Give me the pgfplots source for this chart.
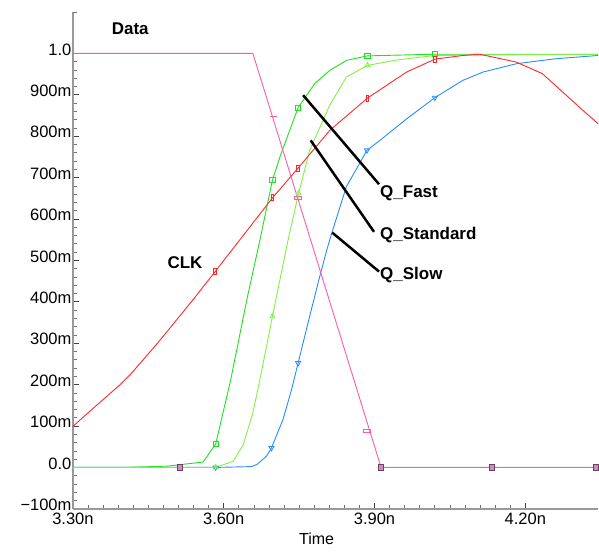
\documentclass[border=0pt]{standalone}
\usepackage{fontspec}
\setmainfont{Liberation Sans}
\usepackage{pgfplots}
\pgfplotsset{compat=1.18}

\definecolor{cData}{RGB}{255,90,170}
\definecolor{cClk}{RGB}{255,40,40}
\definecolor{cFast}{RGB}{30,225,30}
\definecolor{cStd}{RGB}{130,240,70}
\definecolor{cSlow}{RGB}{40,140,255}
\definecolor{cMauve}{RGB}{205,140,195}
\definecolor{cMauveD}{RGB}{110,60,100}

\begin{document}
\begin{tikzpicture}
\begin{axis}[
  name=ax,
  scale only axis,
  width=526pt, height=497.5pt,
  xmin=3.30, xmax=4.345,
  ymin=-0.1, ymax=1.1,
  axis x line=bottom, axis y line=left,
  axis line style={-, draw=black!40, line width=1.6pt},
  tick align=inside,
  major tick length=6pt, minor tick length=4pt,
  every major tick/.append style={black!75, line width=0.9pt},
  every minor tick/.append style={black!55, line width=0.7pt},
  xtick={3.3,3.6,3.9,4.2},
  xticklabels={3.30n,3.60n,3.90n,4.20n},
  minor x tick num=9,
  ytick={-0.1,0,0.1,0.2,0.3,0.4,0.5,0.6,0.7,0.8,0.9,1.0},
  yticklabels={−100m,0.0,100m,200m,300m,400m,500m,600m,700m,800m,900m,1.0},
  minor y tick num=4,
  extra y ticks={1.1}, extra y tick labels={},
  extra y tick style={major tick length=4pt, every major tick/.append style={black!55, line width=0.7pt}},
  tick label style={font=\fontsize{16.5}{19}\selectfont},
  yticklabel style={yshift=4pt, xshift=2pt},
  xticklabel style={yshift=-1pt},
  xlabel={Time},
  xlabel style={at={(axis description cs:0.464,0)}, anchor=center, yshift=-30.5pt, font=\fontsize{16}{19}\selectfont},
  clip=false,
  every axis plot/.append style={line width=0.9pt},
]
% Q_Slow
\addplot[cSlow, no marks] coordinates {
 (3.30,0) (3.584,0) (3.655,0.002) (3.666,0.007) (3.685,0.027) (3.695,0.047)
 (3.718,0.116) (3.735,0.188) (3.748,0.252) (3.771,0.365) (3.791,0.461)
 (3.805,0.525) (3.815,0.566) (3.844,0.678) (3.885,0.766) (3.911,0.790) (3.964,0.842)
 (4.020,0.893) (4.076,0.935) (4.116,0.955) (4.182,0.975) (4.26,0.987) (4.345,0.995)};
% Q_Fast
\addplot[cFast, no marks] coordinates {
 (3.30,0) (3.40,0) (3.487,0.003) (3.559,0.013) (3.584,0.056) (3.614,0.212)
 (3.646,0.405) (3.672,0.549) (3.697,0.694) (3.713,0.754) (3.748,0.869) (3.781,0.927)
 (3.811,0.959) (3.844,0.983) (3.886,0.994) (4.020,0.998) (4.345,0.998)};
% Q_Standard
\addplot[cStd, no marks] coordinates {
 (3.30,0) (3.584,0) (3.619,0.015) (3.639,0.055) (3.658,0.132) (3.672,0.212)
 (3.697,0.365) (3.728,0.549) (3.749,0.662) (3.771,0.766) (3.811,0.875) (3.844,0.943)
 (3.886,0.971) (3.944,0.984) (4.020,0.995) (4.345,0.998)};
% CLK
\addplot[cClk, no marks] coordinates {
 (3.30,0.099) (3.334,0.136) (3.394,0.200) (3.414,0.224) (3.469,0.301) (3.539,0.405)
 (3.583,0.473) (3.697,0.651) (3.748,0.723) (3.811,0.814) (3.886,0.892) (3.964,0.955)
 (4.020,0.986) (4.076,0.995) (4.109,0.998) (4.182,0.979) (4.234,0.951) (4.314,0.863)
 (4.345,0.830)};
% Data
\addplot[cData, no marks] coordinates {
 (3.30,1.0) (3.658,1.0) (3.913,0) (4.345,0)};

% markers
\addplot[cSlow, only marks, mark=triangle, mark size=3pt, mark options={rotate=180, line width=0.8pt}] coordinates {
 (3.584,0) (3.695,0.047) (3.748,0.252) (3.885,0.766) (4.020,0.893)};
\addplot[cStd, only marks, mark=triangle, mark size=3pt, mark options={line width=0.8pt}] coordinates {
 (3.584,0) (3.697,0.365) (3.749,0.662) (3.886,0.971)};
\addplot[cFast, only marks, mark=square, mark size=2.6pt, mark options={line width=0.8pt}] coordinates {
 (3.584,0.056) (3.697,0.694) (3.748,0.869) (3.886,0.994) (4.020,0.998)};
\addplot[cClk, only marks, mark=square, mark size=3pt, mark options={xscale=0.45, line width=0.8pt}] coordinates {
 (3.583,0.473) (3.697,0.651) (3.748,0.723) (3.886,0.892) (4.020,0.986)};
\addplot[cData, only marks, mark=-, mark size=3.5pt, mark options={line width=1.4pt}] coordinates {
 (3.583,1.0) (3.700,0.848) (4.020,0)};
\addplot[cData, only marks, mark=square, mark size=3.5pt, mark options={yscale=0.45, line width=0.8pt}] coordinates {
 (3.748,0.651) (3.885,0.089)};
\addplot[only marks, mark=square*, mark size=2.6pt, mark options={draw=cMauveD, fill=cMauve, line width=0.7pt}] coordinates {
 (3.513,0) (3.913,0) (4.133,0) (4.340,0)};

% labels
\node[font=\bfseries\fontsize{17}{20}\selectfont] at (axis cs:3.414,1.060) {Data};
\node[font=\bfseries\fontsize{17}{20}\selectfont] at (axis cs:3.523,0.494) {CLK};
\draw[line width=2.5pt] (axis cs:3.758,0.899) -- (axis cs:3.909,0.684);
\draw[line width=2.5pt] (axis cs:3.773,0.790) -- (axis cs:3.899,0.569);
\draw[line width=2.5pt] (axis cs:3.816,0.567) -- (axis cs:3.909,0.473);
\node[anchor=west, inner sep=0pt, font=\bfseries\fontsize{17}{20}\selectfont] at (axis cs:3.911,0.663) {Q\_Fast};
\node[anchor=west, inner sep=0pt, font=\bfseries\fontsize{17}{20}\selectfont] at (axis cs:3.911,0.561) {Q\_Standard};
\node[anchor=west, inner sep=0pt, font=\bfseries\fontsize{17}{20}\selectfont] at (axis cs:3.911,0.465) {Q\_Slow};
\end{axis}
\path (ax.south west) ++(-73pt,-42.5pt) rectangle ([yshift=12pt]ax.north east);
\end{tikzpicture}
\end{document}
